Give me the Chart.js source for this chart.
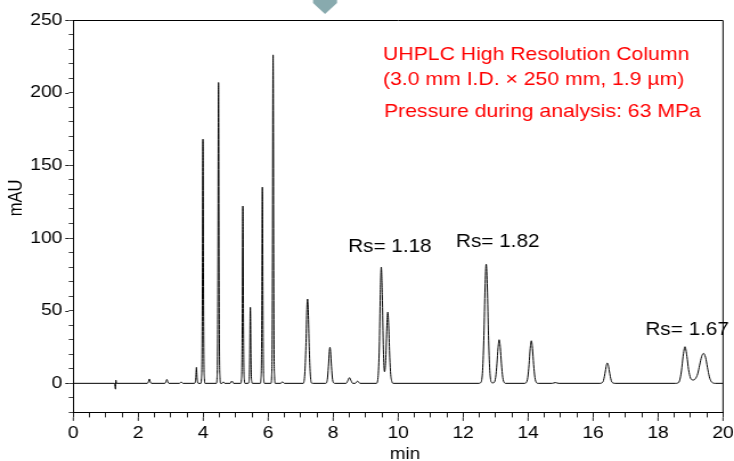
<!DOCTYPE html>
<html>
<head>
<meta charset="utf-8">
<script src="https://cdn.jsdelivr.net/npm/chart.js@4.4.1/dist/chart.umd.min.js"></script>
<style>
  html, body { margin: 0; padding: 0; background: #fff; overflow: hidden; }
  #wrap { width: 644px; height: 461px; transform: scaleX(1.139752); transform-origin: 0 0; }
</style>
</head>
<body>
<div id="wrap"><canvas id="c" width="644" height="461" style="width:644px;height:461px;display:block"></canvas></div>
<script>
// ---- Data: [time (min), signal (mAU)] ----
const segInjection = [[0,0],[1.27,0],[1.30,-4],[1.31,2.2],[1.33,0]];
const segEarly = [
  [2.28,0],[2.31,1],[2.34,3],[2.37,1],[2.40,0],
  [2.82,0],[2.85,1],[2.88,2.7],[2.91,1],[2.94,0],
  [3.27,0],[3.32,1],[3.37,0],
  [3.73,0],[3.755,1],[3.772,4],[3.782,8.5],[3.79,11],[3.798,8.5],[3.808,4],[3.825,1],[3.85,0]
];
const segMain = [
  [3.925,0],[3.945,3.4],[3.962,20],[3.974,76],[3.982,143],[3.99,168],[3.998,143],[4.006,76],[4.018,20],[4.035,3.4],[4.055,0],
  [4.405,0],[4.425,4.1],[4.442,25],[4.454,93],[4.462,176],[4.47,207],[4.478,176],[4.486,93],[4.498,25],[4.515,4.1],[4.535,0],
  [4.58,0],[4.62,1],[4.66,0],
  [4.83,0],[4.88,1.6],[4.93,0],
  [5.155,0],[5.175,2.4],[5.192,14.6],[5.204,55],[5.212,104],[5.22,122],[5.228,104],[5.236,55],[5.248,14.6],[5.265,2.4],[5.285,0],
  [5.385,0],[5.405,1],[5.422,6.3],[5.434,23.5],[5.442,44.5],[5.45,52.3],[5.458,44.5],[5.466,23.5],[5.478,6.3],[5.495,1],[5.515,0],
  [5.755,0],[5.775,2.7],[5.792,16.2],[5.804,61],[5.812,115],[5.82,135],[5.828,115],[5.836,61],[5.848,16.2],[5.865,2.7],[5.885,0],
  [6.085,0],[6.105,4.5],[6.122,27],[6.134,102],[6.142,192],[6.15,226],[6.158,192],[6.166,102],[6.178,27],[6.195,4.5],[6.215,0],
  [6.38,0],[6.44,1],[6.50,0]
];
const segMid = [
  [7.08,0],[7.125,6.4],[7.16,25.5],[7.187,49],[7.21,58],[7.233,49],[7.26,25.5],[7.295,6.4],[7.33,0.3],[7.37,0],
  [7.77,0],[7.82,2.7],[7.853,11.4],[7.882,21.9],[7.90,24.8],[7.918,21.9],[7.947,11.4],[7.98,2.7],[8.02,0.2],[8.06,0],
  [8.40,0],[8.45,1.8],[8.50,3.9],[8.55,1.8],[8.60,0],
  [8.68,0],[8.72,1],[8.75,1.5],[8.78,1],[8.82,0],
  [9.33,0],[9.38,4],[9.42,25],[9.45,61],[9.48,80],[9.51,61],[9.545,23],[9.58,8],[9.62,18],[9.65,38],
  [9.68,49],[9.71,38],[9.74,18],[9.77,6],[9.81,1],[9.85,0]
];
const segLate = [
  [12.48,0],[12.55,0.7],[12.60,9],[12.64,33],[12.675,65.6],[12.71,82],[12.745,65.6],[12.78,33],[12.82,9],
  [12.87,0.7],[12.91,0.3],[12.95,0.5],[13.00,4.1],[13.04,13.4],[13.075,24.5],[13.11,30],[13.145,24.5],
  [13.18,13.4],[13.22,4.1],[13.27,0.4],[13.32,0],
  [13.89,0],[13.94,0.4],[13.99,4],[14.03,13],[14.065,24],[14.10,29.3],[14.135,24],[14.17,13],[14.21,4],[14.26,0.4],[14.31,0],
  [14.74,0],[14.84,0.5],[14.94,0],
  [16.20,0],[16.26,0.2],[16.32,1.9],[16.38,8.5],[16.41,12.4],[16.44,14],[16.47,12.4],[16.50,8.5],[16.56,1.9],[16.62,0.2],[16.68,0],
  [18.54,0],[18.60,0.2],[18.66,1.7],[18.72,8.5],[18.77,18.3],[18.83,25.2],[18.89,18.5],[18.94,9.5],[19.00,3.6],
  [19.04,2.5],[19.09,2.3],[19.15,3.2],[19.22,6.5],[19.28,12.5],[19.34,18.3],[19.40,20.6],[19.46,18],[19.52,11],
  [19.58,4.5],[19.64,1.2],[19.70,0.2],[19.76,0],[20,0]
];

const xMajorTicks = [0, 2, 4, 6, 8, 10, 12, 14, 16, 18, 20];
const yMajorTicks = [0, 50, 100, 150, 200, 250];
const xRange = [0, 20];
const yRange = [-20, 250];
const xTitle = 'min';
const yTitle = 'mAU';
const infoLines = ['UHPLC High Resolution Column', '(3.0 mm I.D. \u00d7 250 mm, 1.9 \u00b5m)', 'Pressure during analysis: 63 MPa'];
const rsLabels = [
  { text: 'Rs= 1.18', t: 8.46, v: 90.3 },
  { text: 'Rs= 1.82', t: 11.78, v: 93.5 },
  { text: 'Rs= 1.67', t: 17.61, v: 33.5 }
];

const points = [].concat(segInjection, segEarly, segMain, segMid, segLate).map(p => ({ x: p[0], y: p[1] }));

// ---- layout (canvas coordinates; canvas is stretched horizontally by CSS) ----
const SX = 734 / 644;
const FONT = '"Liberation Sans", Arial, sans-serif';

const decorPlugin = {
  id: 'decor',
  afterDraw(chart) {
    const ctx = chart.ctx;
    const a = chart.chartArea;
    const xs = chart.scales.x, ys = chart.scales.y;
    ctx.save();
    // frame top and right
    ctx.strokeStyle = '#000';
    ctx.lineWidth = 1;
    ctx.beginPath();
    ctx.moveTo(a.left, Math.round(a.top) + 0.5);
    ctx.lineTo(a.right, Math.round(a.top) + 0.5);
    ctx.lineTo(a.right, a.bottom);
    ctx.stroke();
    // longer major ticks
    ctx.strokeStyle = '#222';
    ctx.beginPath();
    yMajorTicks.forEach(v => {
      const y = Math.round(ys.getPixelForValue(v)) + 0.5;
      ctx.moveTo(a.left - 4, y); ctx.lineTo(a.left - 7, y);
    });
    xMajorTicks.forEach(v => {
      const x = xs.getPixelForValue(v);
      ctx.moveTo(x, a.bottom + 5); ctx.lineTo(x, a.bottom + 8.5);
    });
    ctx.stroke();

    // axis titles
    ctx.fillStyle = '#000';
    ctx.font = '16.5px ' + FONT;
    ctx.textAlign = 'center';
    ctx.textBaseline = 'alphabetic';
    ctx.fillText(xTitle, 405 / SX, 459);
    ctx.save();
    ctx.translate(21.5 / SX, 198);
    ctx.rotate(-Math.PI / 2);
    ctx.fillText(yTitle, 0, 0);
    ctx.restore();

    // resolution labels
    ctx.textAlign = 'left';
    ctx.font = '18.2px ' + FONT;
    rsLabels.forEach(l => {
      ctx.fillText(l.text, xs.getPixelForValue(l.t), ys.getPixelForValue(l.v));
    });

    // red info text
    ctx.fillStyle = '#ff0000';
    ctx.font = '18.6px ' + FONT;
    ctx.fillText(infoLines[0], 383 / SX, 59.5);
    ctx.fillText(infoLines[1], 383 / SX, 85);
    ctx.fillText(infoLines[2], 384 / SX, 117);

    // small grey marker at top
    ctx.fillStyle = '#88aaae';
    ctx.beginPath();
    ctx.moveTo(313 / SX, 0);
    ctx.lineTo(337 / SX, 0);
    ctx.lineTo(337 / SX, 3);
    ctx.lineTo(325 / SX, 14);
    ctx.lineTo(313 / SX, 3);
    ctx.closePath();
    ctx.fill();
    ctx.restore();
  }
};

const tickFont = { family: FONT, size: 17 };

new Chart(document.getElementById('c').getContext('2d'), {
  type: 'line',
  data: {
    datasets: [{
      data: points,
      borderColor: '#000',
      borderWidth: 1,
      pointRadius: 0,
      fill: false,
      cubicInterpolationMode: 'monotone',
      borderJoinStyle: 'round'
    }]
  },
  options: {
    responsive: false,
    devicePixelRatio: 1,
    animation: false,
    events: [],
    layout: { padding: { left: 0, right: 644 - 723 / SX, top: 20, bottom: 0 } },
    plugins: { legend: { display: false }, tooltip: { enabled: false } },
    scales: {
      x: {
        type: 'linear',
        min: xRange[0], max: xRange[1],
        ticks: {
          stepSize: 0.5, maxTicksLimit: 1000, autoSkip: false, maxRotation: 0, minRotation: 0,
          padding: 6, color: '#000', font: tickFont,
          callback: v => (xMajorTicks.some(m => Math.abs(m - v) < 1e-6) ? String(Math.round(v)) : '')
        },
        grid: { display: true, drawOnChartArea: false, drawTicks: true, tickLength: 5, tickColor: '#222', tickWidth: 1 },
        border: { display: true, color: '#000', width: 1 },
        afterFit: s => { s.height = 461 - 412.4; s.paddingLeft = 0; s.paddingRight = 0; }
      },
      y: {
        min: yRange[0], max: yRange[1],
        ticks: {
          stepSize: 10, maxTicksLimit: 1000, autoSkip: false,
          padding: 5.5, color: '#000', font: tickFont,
          callback: v => (yMajorTicks.some(m => Math.abs(m - v) < 1e-6) ? String(Math.round(v)) : '')
        },
        grid: { display: true, drawOnChartArea: false, drawTicks: true, tickLength: 4, tickColor: '#444', tickWidth: 1 },
        border: { display: true, color: '#000', width: 1 },
        afterFit: s => { s.width = 73.3 / SX; s.paddingTop = 0; s.paddingBottom = 0; }
      }
    }
  },
  plugins: [decorPlugin]
});
</script>
</body>
</html>
